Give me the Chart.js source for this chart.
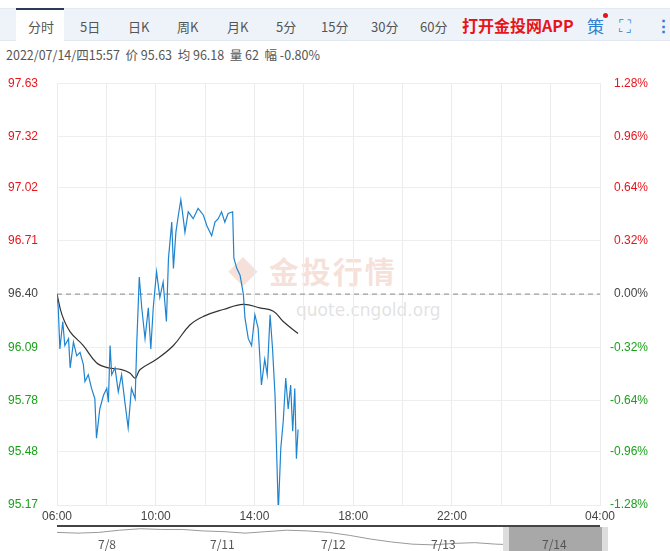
<!DOCTYPE html>
<html><head><meta charset="utf-8">
<script src="https://cdn.jsdelivr.net/npm/chart.js@4"></script>
<style>
body{margin:0;width:670px;height:551px;background:#fff;font-family:"Noto Sans CJK SC","Noto Sans",sans-serif;position:relative;overflow:hidden}
#tabs{position:absolute;left:0;top:8px;width:670px;height:31px;background:#eef3fa;border-top:1px solid #e3e9f2;border-bottom:1px solid #e3e9f2}
.tab{position:absolute;top:8px;font-size:13px;color:#555}
#active{position:absolute;left:16px;top:-1px;width:48px;height:33px;background:#fff;border-top:2px solid #2b3a55;box-sizing:border-box}
#info{position:absolute;left:6px;top:45px;font-size:12.5px;color:#555}
#wm{position:absolute;left:228px;top:248px;color:rgba(230,170,150,0.35);font-size:30px;font-weight:bold;letter-spacing:2px}
#wm2{position:absolute;left:296px;top:300px;color:rgba(190,190,190,0.45);font-size:17px;font-family:"DejaVu Sans"}
#c{position:absolute;left:0;top:70px}
#nav{position:absolute;left:57px;top:525px;width:543px;height:26px;border-top:2px solid #444}
#n{position:absolute;left:57px;top:528px}
.nl{position:absolute;top:535px;font-size:12px;color:#555}
</style></head><body>
<div id="tabs"><div id="active"></div>
<span class="tab" style="left:28px">分时</span><span class="tab" style="left:80px">5日</span>
<span class="tab" style="left:128px">日K</span><span class="tab" style="left:177px">周K</span>
<span class="tab" style="left:227px">月K</span><span class="tab" style="left:276px">5分</span>
<span class="tab" style="left:321px">15分</span><span class="tab" style="left:371px">30分</span>
<span class="tab" style="left:420px">60分</span>
<span class="tab" style="left:462px;top:4px;color:#e8141b;font-size:16px;font-weight:bold">打开金投网APP</span>
<span class="tab" style="left:587px;top:4px;color:#2f7fd0;font-size:17px">策</span>
<span style="position:absolute;left:603px;top:4px;width:5px;height:5px;border-radius:3px;background:#e8141b"></span>
<span class="tab" style="left:619px;top:3px;color:#2f7fd0;font-size:17px">⛶</span>
<span class="tab" style="left:655px;top:3px;color:#2f7fd0;font-size:17px;font-weight:bold">⋮</span>
</div>
<div id="info">2022/07/14/四15:57&nbsp; 价 95.63&nbsp; 均 96.18&nbsp; 量 62&nbsp; 幅 -0.80%</div>
<div id="wm">◆ 金投行情</div>
<div id="wm2">quote.cngold.org</div>
<canvas id="c" width="670" height="456"></canvas>
<div id="nav"></div>
<canvas id="n" width="543" height="22"></canvas>
<div class="nl" style="left:98px">7/8</div><div class="nl" style="left:210px">7/11</div>
<div class="nl" style="left:321px">7/12</div><div class="nl" style="left:431px">7/13</div>
<div style="position:absolute;left:503px;top:527px;width:105px;height:24px;background:#a8a8a8;border-left:6px solid #ddd;border-right:6px solid #ddd;box-sizing:border-box"></div>
<div class="nl" style="left:542px">7/14</div>
<script>
const preClose = 96.40;
const yTicks = [95.17, 95.48, 95.78, 96.09, 96.40, 96.71, 97.02, 97.32, 97.63];
const pctTicks = ['-1.28%', '-0.96%', '-0.64%', '-0.32%', '0.00%', '0.32%', '0.64%', '0.96%', '1.28%'];
const xLabels = { 0: '06:00', 240: '10:00', 480: '14:00', 720: '18:00', 960: '22:00', 1320: '04:00' };
// minutes after 06:00
const priceMin = [0,3,7,14,19,28,32,40,48,56,64,68,76,84,92,96,104,113,121,125,129,133,141,149,157,165,173,181,190,194,200,206,214,222,228,234,242,250,258,266,271,279,283,289,295,301,307,311,319,331,343,356,364,376,384,392,400,408,416,427,430,437,445,453,457,465,473,481,489,497,505,511,518,524,530,538,544,550,556,562,568,573,578,582,586];
const price = [96.40,96.32,96.08,96.24,96.10,96.14,95.97,96.12,96.04,96.06,95.99,95.89,95.93,95.85,95.79,95.56,95.73,95.81,95.85,95.77,96.10,95.93,95.97,95.83,95.93,95.77,95.62,95.85,95.79,96.12,96.50,96.32,96.14,96.32,96.08,96.32,96.53,96.38,96.47,96.24,96.61,96.82,96.55,96.76,96.86,96.95,96.84,96.76,96.88,96.84,96.90,96.86,96.80,96.74,96.82,96.84,96.88,96.82,96.87,96.88,96.61,96.55,96.51,96.40,96.26,96.14,96.10,96.28,96.20,95.87,96.02,95.93,96.28,96.08,95.81,95.13,95.50,95.66,95.91,95.73,95.87,95.60,95.85,95.44,95.61];
const avgMin = [0,12,32,64,96,125,157,177,190,202,242,283,323,356,404,453,493,526,550,586];
const avg = [96.40,96.28,96.18,96.10,96.00,95.97,95.96,95.94,95.91,95.96,96.02,96.10,96.22,96.27,96.31,96.34,96.32,96.30,96.24,96.17];
const navValues = [96.9,96.8,96.9,97.2,97.4,97.3,97.3,97.1,97.0,96.8,97.0,97.2,97.1,96.9,96.5,96.0,95.6,95.3,95.2,95.4,95.5,95.3,95.2,95.5,95.4,95.6,95.3];

const tickColor = v => v > preClose ? '#e8141b' : v < preClose ? '#1aa11a' : '#444';
const fixed = w => function (s) { s.width = w; };

new Chart(document.getElementById('c'), {
  type: 'line',
  data: { datasets: [
    { data: priceMin.map((m, i) => ({ x: m, y: price[i] })), borderColor: '#1f84d0', borderWidth: 1.2, pointRadius: 0, tension: 0 },
    { data: avgMin.map((m, i) => ({ x: m, y: avg[i] })), borderColor: '#333', borderWidth: 1.2, pointRadius: 0, tension: 0.4 },
    { data: [{ x: 0, y: preClose }, { x: 1320, y: preClose }], borderColor: '#888', borderWidth: 1, borderDash: [5, 4], pointRadius: 0 }
  ] },
  options: {
    responsive: false, animation: false,
    layout: { padding: { top: 12, bottom: 0, left: 8, right: 22 } },
    plugins: { legend: { display: false }, tooltip: { enabled: false } },
    scales: {
      x: { type: 'linear', min: 0, max: 1320, afterFit: s => { s.height = 21; },
        afterBuildTicks: s => { s.ticks = []; for (let m = 0; m <= 1320; m += 120) s.ticks.push({ value: m }); },
        grid: { color: '#ececec', drawTicks: false },
        border: { color: '#ececec', width: 1 },
        ticks: { autoSkip: false, maxRotation: 0, padding: 4, color: '#444', font: { size: 12, family: 'Liberation Sans' }, callback: v => xLabels[v] || '' } },
      y: { min: 95.17, max: 97.63, afterFit: fixed(49),
        afterBuildTicks: s => { s.ticks = yTicks.map(v => ({ value: v })); },
        grid: { color: '#eeeeee', drawTicks: false }, border: { display: false },
        ticks: { crossAlign: 'far', padding: 6, font: { size: 12, family: 'Liberation Sans' },
          color: c => tickColor(yTicks[c.index]), callback: v => v.toFixed(2) } },
      y2: { position: 'right', min: 95.17, max: 97.63, afterFit: fixed(48),
        afterBuildTicks: s => { s.ticks = yTicks.map(v => ({ value: v })); },
        grid: { display: false }, border: { display: false },
        ticks: { crossAlign: 'far', padding: 0, font: { size: 12, family: 'Liberation Sans' },
          color: c => tickColor(yTicks[c.index]), callback: (v, i) => pctTicks[i] } }
    }
  }
});

new Chart(document.getElementById('n'), {
  type: 'line',
  data: { labels: navValues.map((v, i) => i), datasets: [{ data: navValues, borderColor: '#999', borderWidth: 1, pointRadius: 0 }] },
  options: { responsive: false, animation: false, plugins: { legend: { display: false } },
    layout: { padding: 0 },
    scales: { x: { display: false }, y: { display: false, min: 94.5, max: 97.5 } } }
});
</script>
</body></html>
